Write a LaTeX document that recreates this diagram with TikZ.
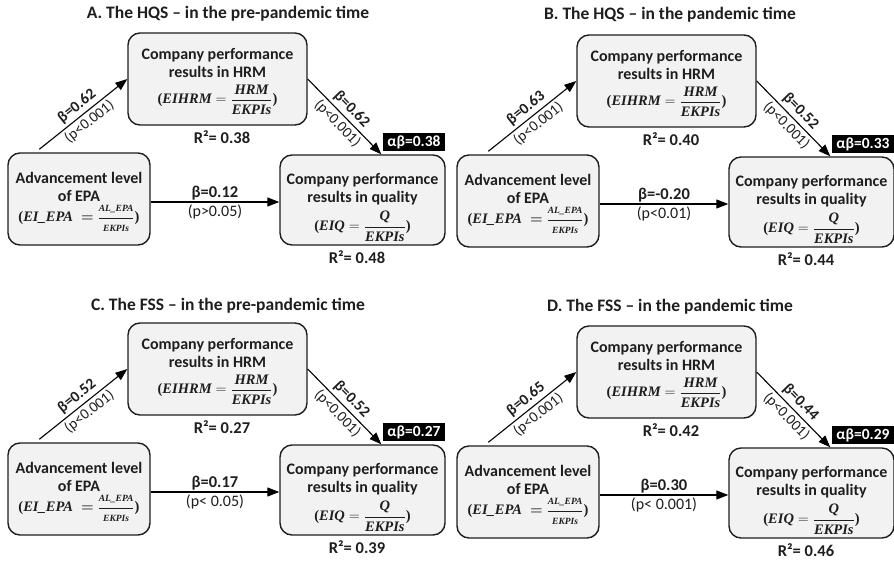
\documentclass[tikz,border=0pt]{standalone}
\usepackage{amsmath}
\usepackage{fontspec}
\setmainfont{Carlito}
\newfontfamily\eqf{Liberation Serif}
\usetikzlibrary{arrows.meta}
\definecolor{boxfill}{HTML}{F2F2F2}
\definecolor{ink}{HTML}{1E1E1E}
\tikzset{
 box/.style={draw=ink, line width=1.4pt, rounded corners=12pt, fill=boxfill, align=center,
   font=\fontsize{16}{18}\selectfont\bfseries, text=ink, inner sep=2pt},
 arr/.style={draw=black, line width=1.1pt, -{Triangle[length=12pt,width=9pt]}},
 blab/.style={font=\fontsize{16.5}{18}\selectfont\bfseries, text=ink, inner sep=1pt},
 plab/.style={font=\fontsize{16}{18}\selectfont, text=ink, inner sep=2pt},
 dlab/.style={font=\fontsize{15.5}{17}\selectfont\bfseries, text=ink, inner sep=3pt},
 dplab/.style={font=\fontsize{15}{17}\selectfont, text=ink, inner sep=2.5pt},
 abbox/.style={fill=black, text=white, font=\fontsize{15.5}{17}\selectfont\bfseries,
   minimum width=62pt, minimum height=18pt, inner sep=0pt},
 rlab/.style={font=\fontsize{16.5}{18}\selectfont\bfseries, text=ink},
 ttl/.style={font=\fontsize{17.5}{20}\selectfont\bfseries, text=ink}
}
\newcommand{\ev}[1]{\text{\eqf\bfseries\itshape #1}}
\newcommand{\es}[1]{\text{\fontsize{9.5}{10}\selectfont\eqf\bfseries\itshape #1}}
\newcommand{\numst}{\rule[-2pt]{0pt}{2pt}}
\newcommand{\denst}{\rule{0pt}{12pt}}
\newcommand{\eqHRM}{{\fontsize{14.5}{16}\selectfont\eqf(\ensuremath{\ev{EIHRM}=\dfrac{\ev{HRM}\numst}{\denst\ev{EKPIs}}})}}
\newcommand{\eqQ}{{\fontsize{14.5}{16}\selectfont\eqf(\ensuremath{\ev{EIQ}=\dfrac{\ev{Q}\numst}{\denst\ev{EKPIs}}})}}
\newcommand{\eqEPA}{{\fontsize{14.5}{16}\selectfont\eqf\bfseries(\ensuremath{\ev{EI\_EPA}\;\boldsymbol{=}\dfrac{\es{AL\_EPA}}{\es{EKPIs}}})}}
% #1 prefix, #2 shift, #3 b1, #4 p1, #5 b2, #6 p2, #7 b3, #8 p3, #9 R2 top
\newcommand{\mypanel}[9]{%
\begin{scope}[shift={#2}]
\node[box, minimum width=179pt, minimum height=92pt] (#1-tb) at (217.5,79) {\rule{0pt}{16pt}Company performance\\results in HRM\\[6pt]\eqHRM};
\node[box, minimum width=142pt, minimum height=92pt] (#1-lb) at (79,199) {\rule{0pt}{17pt}Advancement level\\of EPA\\[2pt]\eqEPA};
\node[box, minimum width=165pt, minimum height=90pt] (#1-rb) at (362.5,200) {\rule{0pt}{26pt}Company performance\\results in quality\\[5pt]\eqQ};
\node[abbox] (#1-ab) at (414,142) {αβ=\curab};
\node[rlab] (#1-r1) at (222,137) {R²= #9};
\node[rlab] (#1-r2) at (357,257) {R²= \currb};
\draw[arr] ([xshift=32pt,yshift=3pt]#1-lb.north west) -- node[sloped, above, dlab]{β=#3} node[sloped, below, dplab]{(p#4)} (#1-tb.west);
\draw[arr] (#1-tb.east) -- node[sloped, above, dlab]{β=#5} node[sloped, below, dplab]{(p#6)} ([xshift=102pt]#1-rb.north west);
\draw[arr] ([yshift=-3pt]#1-lb.east) -- node[above, blab]{β=#7} node[below, plab]{(p#8)} ([yshift=-3pt]#1-lb.east -| #1-rb.west);
\end{scope}}
\begin{document}
\begin{tikzpicture}[x=1pt,y=-1pt]
\useasboundingbox[fill=white] (0,0) rectangle (894,562);
\node[ttl] (tA) at (228,14) {A. The HQS – in the pre-pandemic time};
\node[ttl] (tB) at (670,15) {B. The HQS – in the pandemic time};
\node[ttl] (tC) at (228,306) {C. The FSS – in the pre-pandemic time};
\node[ttl] (tD) at (670,307) {D. The FSS – in the pandemic time};
\def\curab{0.38}\def\currb{0.48}
\mypanel{A}{(0,0)}{0.62}{<0.001}{0.62}{<0.001}{0.12}{>0.05}{0.38}
\def\curab{0.33}\def\currb{0.44}
\mypanel{B}{(449,2)}{0.63}{<0.001}{0.52}{<0.001}{-0.20}{<0.01}{0.40}
\def\curab{0.27}\def\currb{0.39}
\mypanel{C}{(0,290)}{0.52}{<0.001}{0.52}{<0.001}{0.17}{< 0.05}{0.27}
\def\curab{0.29}\def\currb{0.46}
\mypanel{D}{(449,293)}{0.65}{<0.001}{0.44}{<0.001}{0.30}{< 0.001}{0.42}
\end{tikzpicture}
\end{document}
